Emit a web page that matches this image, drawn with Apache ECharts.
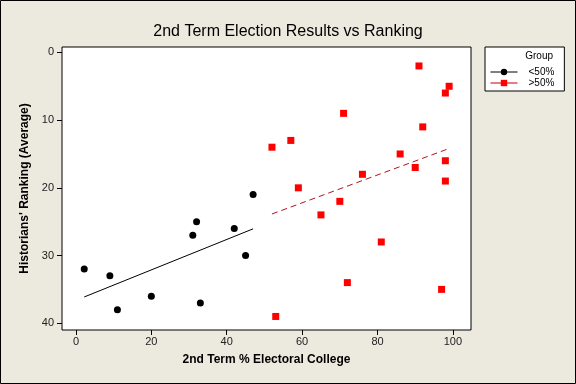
<!DOCTYPE html>
<html><head><meta charset="utf-8">
<script src="https://cdn.jsdelivr.net/npm/echarts@6/dist/echarts.min.js"></script>
<style>html,body{margin:0;padding:0;background:#ece9df;}#c{width:576px;height:384px;}</style>
</head><body><div id="c"></div>
<script>
// Data
const lowX  = [2.2, 9, 11, 20, 31, 32, 33, 42, 45, 47];
const lowY  = [32, 33, 38, 36, 27, 25, 37, 26, 30, 21];
const highX = [91, 99, 98, 71, 92, 57, 52, 86, 98, 90, 76, 98, 59, 70, 65, 81, 72, 97, 53];
const highY = [2, 5, 6, 9, 11, 13, 14, 15, 16, 17, 18, 19, 20, 22, 24, 28, 34, 35, 39];
const xTicks = [0, 20, 40, 60, 80, 100];
const yTicks = [0, 10, 20, 30, 40];
const groupNames = ['<50%', '>50%'];

function pairs(xs, ys){ return xs.map((x,i)=>[x, ys[i]]); }
// least-squares fit line, drawn from min x to max x
function fit(xs, ys){
  const n = xs.length;
  const mx = xs.reduce((a,b)=>a+b,0)/n, my = ys.reduce((a,b)=>a+b,0)/n;
  let sxy=0, sxx=0;
  for(let i=0;i<n;i++){ sxy+=(xs[i]-mx)*(ys[i]-my); sxx+=(xs[i]-mx)**2; }
  const b = sxy/sxx, a = my - b*mx;
  const x0 = Math.min(...xs), x1 = Math.max(...xs);
  return [[x0, a+b*x0],[x1, a+b*x1]];
}

const FONT = 'Liberation Sans';
const chart = echarts.init(document.getElementById('c'), null, {renderer:'canvas'});
chart.setOption({
  backgroundColor: '#ece9df',
  animation: false,
  title: {
    text: '2nd Term Election Results vs Ranking',
    left: 'center', top: 19,
    textStyle: {fontFamily: FONT, fontSize: 16, fontWeight: 'normal', color: '#000'}
  },
  grid: {
    left: 62, top: 47, right: 105, bottom: 54,
    show: true, backgroundColor: '#fff', borderColor: '#000', borderWidth: 1
  },
  xAxis: {
    type: 'value', min: -3.7, max: 104.8,
    name: '2nd Term % Electoral College', nameLocation: 'middle', nameGap: 24,
    nameTextStyle: {fontFamily: FONT, fontSize: 12, fontWeight: 'bold', color: '#000'},
    axisLine: {show: false, onZero: false},
    axisTick: {show: true, length: 5, lineStyle: {color: '#000'}, customValues: xTicks},
    axisLabel: {fontFamily: FONT, fontSize: 11, color: '#222', margin: 6, customValues: xTicks},
    splitLine: {show: false}
  },
  yAxis: {
    type: 'value', inverse: true, min: -0.8, max: 41,
    name: "Historians' Ranking (Average)", nameLocation: 'middle', nameGap: 29,
    nameTextStyle: {fontFamily: FONT, fontSize: 12, fontWeight: 'bold', color: '#000'},
    axisLine: {show: false, onZero: false},
    axisTick: {show: true, length: 5, lineStyle: {color: '#000'}, customValues: yTicks},
    axisLabel: {fontFamily: FONT, fontSize: 11, color: '#222', margin: 8, customValues: yTicks},
    splitLine: {show: false}
  },
  legend: {
    orient: 'vertical', left: 485, top: 47,
    padding: [20, 10, 3, 5], itemGap: 1, itemWidth: 27, itemHeight: 8,
    backgroundColor: '#fff', borderColor: '#000', borderWidth: 1, borderRadius: 0,
    textStyle: {fontFamily: FONT, fontSize: 10, color: '#000', padding: [0, 0, 0, 6]},
    lineStyle: {opacity: 1, width: 1, type: 'solid'},
    data: groupNames
  },
  graphic: [
    {type: 'text', z: 100, zlevel: 1, x: 553, y: 56,
     style: {text: 'Group', fontFamily: FONT, fontSize: 10, fill: '#000', align: 'right', verticalAlign: 'middle'}},
    {type: 'rect', z: 100, zlevel: 1, shape: {x: 0.5, y: 0.5, width: 575, height: 383}, style: {fill: 'none', stroke: '#000', lineWidth: 1}, silent: true}
  ],
  series: [
    {name: 'fitLow', type: 'line', data: fit(lowX, lowY), symbol: 'none',
     lineStyle: {color: '#000', width: 1}},
    {name: 'fitHigh', type: 'line', data: fit(highX, highY), symbol: 'none',
     lineStyle: {color: '#b3121c', width: 1, type: [6, 4]}},
    {name: groupNames[0], type: 'line', data: pairs(lowX, lowY), symbol: 'circle', symbolSize: 7,
     itemStyle: {color: '#000'}, lineStyle: {color: '#000', opacity: 0}},
    {name: groupNames[1], type: 'line', data: pairs(highX, highY), symbol: 'rect', symbolSize: 7,
     itemStyle: {color: '#ff0000'}, lineStyle: {color: '#cc0000', opacity: 0}}
  ]
});
</script></body></html>
